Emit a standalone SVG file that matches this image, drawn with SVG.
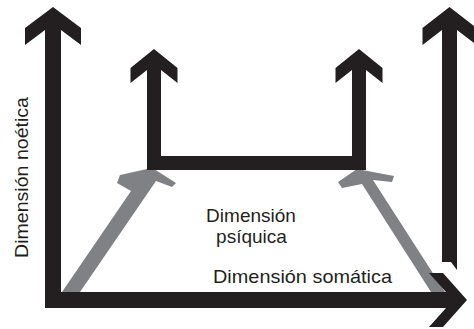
<svg xmlns="http://www.w3.org/2000/svg" width="474" height="329" viewBox="0 0 474 329">
<style>
.blk{fill:#231f20}
.gry{fill:#808184}
.lbl{font-family:"Liberation Sans",Arial,sans-serif;font-size:19px;fill:#231f20}
</style>
<rect width="474" height="329" fill="#fff"/>
<g id="connectors">
<polygon id="grey-left" class="gry" points="62,292 131,191 117,183 120,175 147,169 154,169 176,183 172,187 156,181 80,292"/>
<polygon id="grey-right" class="gry" points="431,292 362,184 342,188 338,182 357,169 394,176 392,182 373,180 445,292"/>
<polygon id="axes" class="blk" points="53,7 81,28 81,45 61,30 61,292 446,292 429,273 443,273 467,300 443,327 429,327 446,308 45,308 45,30 25,45 25,28"/>
<polygon id="tall-right" class="blk" points="449.5,7 476.5,28 476.5,45 457,30 457,270 451,262 442,262 442,30 422.5,45 422.5,28"/>
<polygon id="u-shape" class="blk" points="154,49 177.5,68 177.5,83 161,70 161,156 352,156 352,70 335.5,83 335.5,68 359,49 382.5,68 382.5,83 366,70 366,170 147,170 147,70 130.5,83 130.5,68"/>
</g>
<g id="label-noetica">
<text class="lbl" transform="translate(28,258) rotate(-90)" x="0" y="0" textLength="161" lengthAdjust="spacingAndGlyphs">Dimensión noética</text>
</g>
<g id="label-psiquica">
<text class="lbl" x="251" y="222" text-anchor="middle">Dimensión</text>
<text class="lbl" x="251.5" y="243" text-anchor="middle">psíquica</text>
</g>
<g id="label-somatica">
<text class="lbl" x="213" y="283" textLength="179" lengthAdjust="spacingAndGlyphs">Dimensión somática</text>
</g>
</svg>
